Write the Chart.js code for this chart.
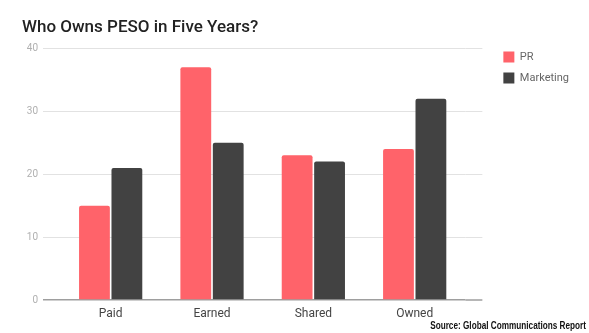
<!DOCTYPE html>
<html>
<head>
<meta charset="utf-8">
<script src="https://cdn.jsdelivr.net/npm/chart.js@4.4.1/dist/chart.umd.min.js"></script>
<style>
  html, body { margin: 0; padding: 0; background: #ffffff; }
  #wrap { width: 589px; height: 333px; position: relative; }
</style>
</head>
<body>
<div id="wrap"><canvas id="c" width="589" height="333"></canvas></div>
<script>
const titleText = 'Who Owns PESO in Five Years?';
const sourceText = 'Source: Global Communications Report';
const categories = ['Paid', 'Earned', 'Shared', 'Owned'];
const seriesNames = ['PR', 'Marketing'];
const prValues = [15, 37, 23, 24];
const marketingValues = [21, 25, 22, 32];
const yTickValues = [0, 10, 20, 30, 40];

const GRID = '#e2e2e2';
const ZERO = '#9e9e9e';

const extendGrid = {
  id: 'extendGrid',
  beforeDatasetsDraw(chart) {
    const s = chart.scales.y, a = chart.chartArea, ctx = chart.ctx;
    ctx.save();
    s.ticks.forEach(t => {
      const y = s.getPixelForValue(t.value);
      const zero = t.value === 0;
      ctx.strokeStyle = zero ? ZERO : GRID;
      ctx.lineWidth = zero ? 1.5 : 1;
      const yy = zero ? y : Math.round(y) + 0.5;
      ctx.beginPath();
      ctx.moveTo(a.right, yy);
      ctx.lineTo(a.right + 17, yy);
      ctx.stroke();
    });
    ctx.restore();
  }
};

const legendShift = {
  id: 'legendShift',
  afterLayout(chart) {
    const lg = chart.legend;
    if (!lg) return;
    const h = lg.height;
    lg.top = chart.chartArea.top - 7;
    lg.bottom = lg.top + h;
  }
};

const sourceNote = {
  id: 'sourceNote',
  afterDraw(chart) {
    const ctx = chart.ctx;
    ctx.save();
    ctx.font = 'bold 10px "Liberation Sans Narrow", "Liberation Sans", sans-serif';
    ctx.fillStyle = '#111111';
    ctx.textAlign = 'right';
    ctx.textBaseline = 'alphabetic';
    ctx.translate(chart.width - 3, chart.height - 4);
    ctx.scale(0.82, 1);
    ctx.fillText(sourceText, 0, 0);
    ctx.restore();
  }
};

new Chart(document.getElementById('c'), {
  type: 'bar',
  data: {
    labels: categories,
    datasets: [
      { label: seriesNames[0], data: prValues, backgroundColor: '#ff636a', borderRadius: 2, barPercentage: 0.95, categoryPercentage: 0.64, yAxisID: 'y' },
      { label: seriesNames[1], data: marketingValues, backgroundColor: '#424242', borderRadius: 2, barPercentage: 0.95, categoryPercentage: 0.64, yAxisID: 'y' }
    ]
  },
  options: {
    responsive: false,
    animation: false,
    devicePixelRatio: 1,
    layout: { padding: { left: 22, right: 10, top: 0, bottom: 12 } },
    plugins: {
      title: {
        display: true,
        text: titleText,
        align: 'start',
        color: '#222222',
        font: { family: 'Roboto', size: 17, weight: '500' },
        padding: { top: 18, bottom: 10 }
      },
      legend: {
        position: 'right',
        align: 'start',
        labels: {
          boxWidth: 11, boxHeight: 11, padding: 10,
          color: '#666666',
          font: { family: 'Roboto', size: 11 }
        }
      },
      tooltip: { enabled: false }
    },
    scales: {
      x: {
        grid: { display: false, drawTicks: false },
        border: { display: false },
        ticks: { color: '#444444', font: { family: 'Roboto', size: 12 }, padding: 7 },
        afterFit(s) { s.height = 21; }
      },
      y: {
        min: 0, max: 40,
        afterBuildTicks(s) { s.ticks = yTickValues.map(v => ({ value: v })); },
        ticks: { color: '#b0b0b0', font: { family: 'Roboto', size: 10 }, padding: 5 },
        grid: {
          color: c => (c.tick && c.tick.value === 0) ? ZERO : GRID,
          tickColor: c => (c.tick && c.tick.value === 0) ? ZERO : GRID,
          lineWidth: c => (c.tick && c.tick.value === 0) ? 1.5 : 1,
          tickLength: 17,
          drawTicks: true
        },
        border: { display: false },
        afterFit(s) { s.width = 38; }
      },
      yR: {
        position: 'right',
        display: true,
        min: 0, max: 40,
        grid: { display: false, drawTicks: false },
        border: { display: false },
        ticks: { display: false },
        afterFit(s) { s.width = 28; }
      }
    }
  },
  plugins: [extendGrid, legendShift, sourceNote]
});
</script>
</body>
</html>
